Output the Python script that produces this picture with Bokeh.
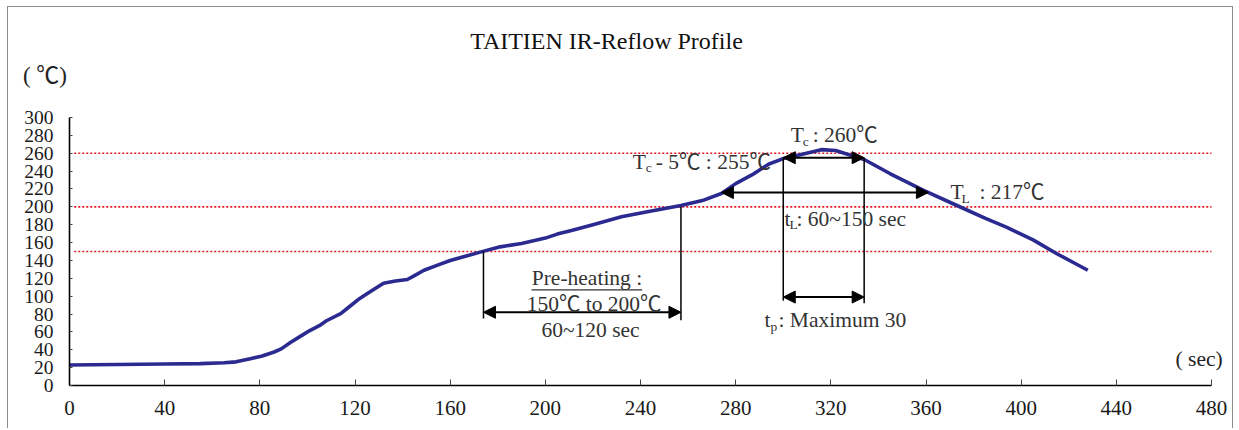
from bokeh.plotting import figure
from bokeh.models import Range1d, FixedTicker, Label, Arrow, NormalHead
from bokeh.embed import file_html
from bokeh.resources import INLINE

# ---------------- data ----------------
time_s = [0, 20, 40, 55, 65, 70, 76, 81, 86, 89, 93, 97, 101, 105, 108, 114, 118,
          122, 127, 132, 137, 142, 145, 149, 155, 160, 166, 173, 181, 190, 200,
          205, 211, 220, 232, 244, 257, 266, 274, 280, 287, 294, 300, 308, 316,
          322, 328, 334, 345, 359, 373, 385, 394, 405, 415, 428]
temp_c = [23, 23.5, 24, 24.5, 25.5, 26.5, 30, 33, 37.5, 41, 48.5, 55, 61.5, 67,
          72.5, 80.5, 89, 97.5, 106, 114.5, 117, 118.7, 123, 129, 135, 140, 144.5,
          149.6, 155.2, 159, 165, 169.5, 173.5, 180, 189, 195, 201.5, 207, 215,
          226, 236, 248, 254, 259, 264, 263, 258, 253, 237, 218.5, 201.5, 187,
          177, 163, 147.5, 129]

x_ticks = [0, 40, 80, 120, 160, 200, 240, 280, 320, 360, 400, 440, 480]
y_ticks = [0, 20, 40, 60, 80, 100, 120, 140, 160, 180, 200, 220, 240, 260, 280, 300]
ref_levels = [150, 200, 260]          # dotted reference temperatures
preheat_times = [174, 257]            # pre-heating window (sec)
preheat_temps = [150, 200]
tl_times = [274, 361]                 # time above liquidus
tl_temp = 216
tp_times = [300, 334]                 # time within 5 C of peak
tp_temp = 255

FONT = "Liberation Serif, Noto Sans CJK JP"
AXFONT = "Liberation Serif"
TXT = "#333333"

# frame fills the whole canvas; axes are pinned at 0 with bounds
p = figure(width=1226, height=422, output_backend="svg", toolbar_location=None,
           x_range=Range1d(-25.64, 489.66), y_range=Range1d(-49.25, 423.15),
           min_border_left=0, min_border_right=0, min_border_top=0,
           min_border_bottom=0, title=None)
p.styles = {"margin-left": "7px", "margin-top": "6px",
            "border-left": "1px solid #8c8c8c", "border-top": "1px solid #8c8c8c",
            "border-right": "1px solid #8c8c8c"}
p.outline_line_color = None
p.xgrid.visible = False
p.ygrid.visible = False
p.background_fill_color = "white"
p.border_fill_color = "white"

for ax in (p.xaxis[0], p.yaxis[0]):
    ax.fixed_location = 0
    ax.axis_line_color = "black"
    ax.axis_line_width = 1.6
    ax.major_tick_out = 0
    ax.minor_tick_in = 0
    ax.minor_tick_out = 0
    ax.major_tick_line_color = "#444444"
    ax.major_label_text_font = AXFONT
    ax.major_label_text_color = "#1a1a1a"

p.xaxis.bounds = (0, 480)
p.yaxis.bounds = (0, 300)
p.xaxis.ticker = FixedTicker(ticks=x_ticks)
p.yaxis.ticker = FixedTicker(ticks=y_ticks)
p.xaxis.major_tick_in = 6
p.yaxis.major_tick_in = 3
p.xaxis.major_label_text_font_size = "21px"
p.yaxis.major_label_text_font_size = "19.5px"
p.xaxis.major_label_standoff = 15
p.yaxis.major_label_standoff = 16

# dotted reference lines
p.segment(x0=[2] * len(ref_levels), x1=[480] * len(ref_levels),
          y0=ref_levels, y1=ref_levels, line_color="#e4141e",
          line_width=1.6, line_dash="2 2")

# profile curve
p.line(time_s, temp_c, line_color="#2b2a90", line_width=3.6, line_join="round")

# vertical marker lines
p.segment(x0=[preheat_times[0], preheat_times[1], tp_times[0], tp_times[1]],
          x1=[preheat_times[0], preheat_times[1], tp_times[0], tp_times[1]],
          y0=[preheat_temps[0], preheat_temps[1], tp_temp, tp_temp],
          y1=[75, 73, 95, 92],
          line_color="black", line_width=1.5)

def harrow(x0, x1, y):
    p.add_layout(Arrow(x_start=x0, y_start=y, x_end=x1, y_end=y, line_width=2,
                       line_color="black",
                       start=NormalHead(size=12, fill_color="black", line_color="black"),
                       end=NormalHead(size=12, fill_color="black", line_color="black")))

harrow(preheat_times[0], preheat_times[1], 82)
harrow(tp_times[0], tp_times[1], 99)
harrow(tp_times[0], tp_times[1], tp_temp)
harrow(tl_times[0], tl_times[1], tl_temp)

def txt(x, y, text, size=21.5, align="left", dx=0, dy=0, color=TXT, font=FONT):
    p.add_layout(Label(x=x, y=y, text=text, x_offset=dx, y_offset=dy,
                       text_font=font, text_font_size=f"{size}px",
                       text_color=color, text_align=align,
                       text_baseline="middle"))

def sub(x, y, main, s, rest, sdx, rdx, size=21.5):
    txt(x, y, main, size=size)
    txt(x, y, s, size=13.5, dx=sdx, dy=-6)
    txt(x, y, rest, size=size, dx=rdx)

# title and units
txt(225.7, 385.1, "TAITIEN IR-Reflow Profile", size=24, align="center",
    color="#111111", font=AXFONT)
txt(-10.3, 347, "( \u2103)", size=23, align="center", color="#222222")
txt(474.8, 29.5, "( sec)", size=21.5, align="center", color="#222222")

# pre-heating block
txt(217.5, 119.8, "Pre-heating :", align="center")
p.segment(x0=[194.2], x1=[240.7], y0=[107], y1=[107], line_color="#333333", line_width=1.4)
txt(220.5, 90.7, "150\u2103 to 200\u2103", align="center")
txt(219, 61.6, "60~120 sec", align="center")

# peak annotations
sub(303.1, 279.9, "T", "c", ": 260\u2103", 12, 22)
sub(236.7, 250.5, "T", "c", "- 5\u2103 : 255\u2103", 13, 23)
sub(300.5, 186.6, "t", "L", ": 60~150 sec", 5, 12)
sub(292.1, 72.8, "t", "p", ": Maximum 30", 6, 14)
sub(370.3, 216.4, "T", "L", ":  217\u2103", 11, 29)

open("out.html", "w").write(file_html(p, INLINE))
